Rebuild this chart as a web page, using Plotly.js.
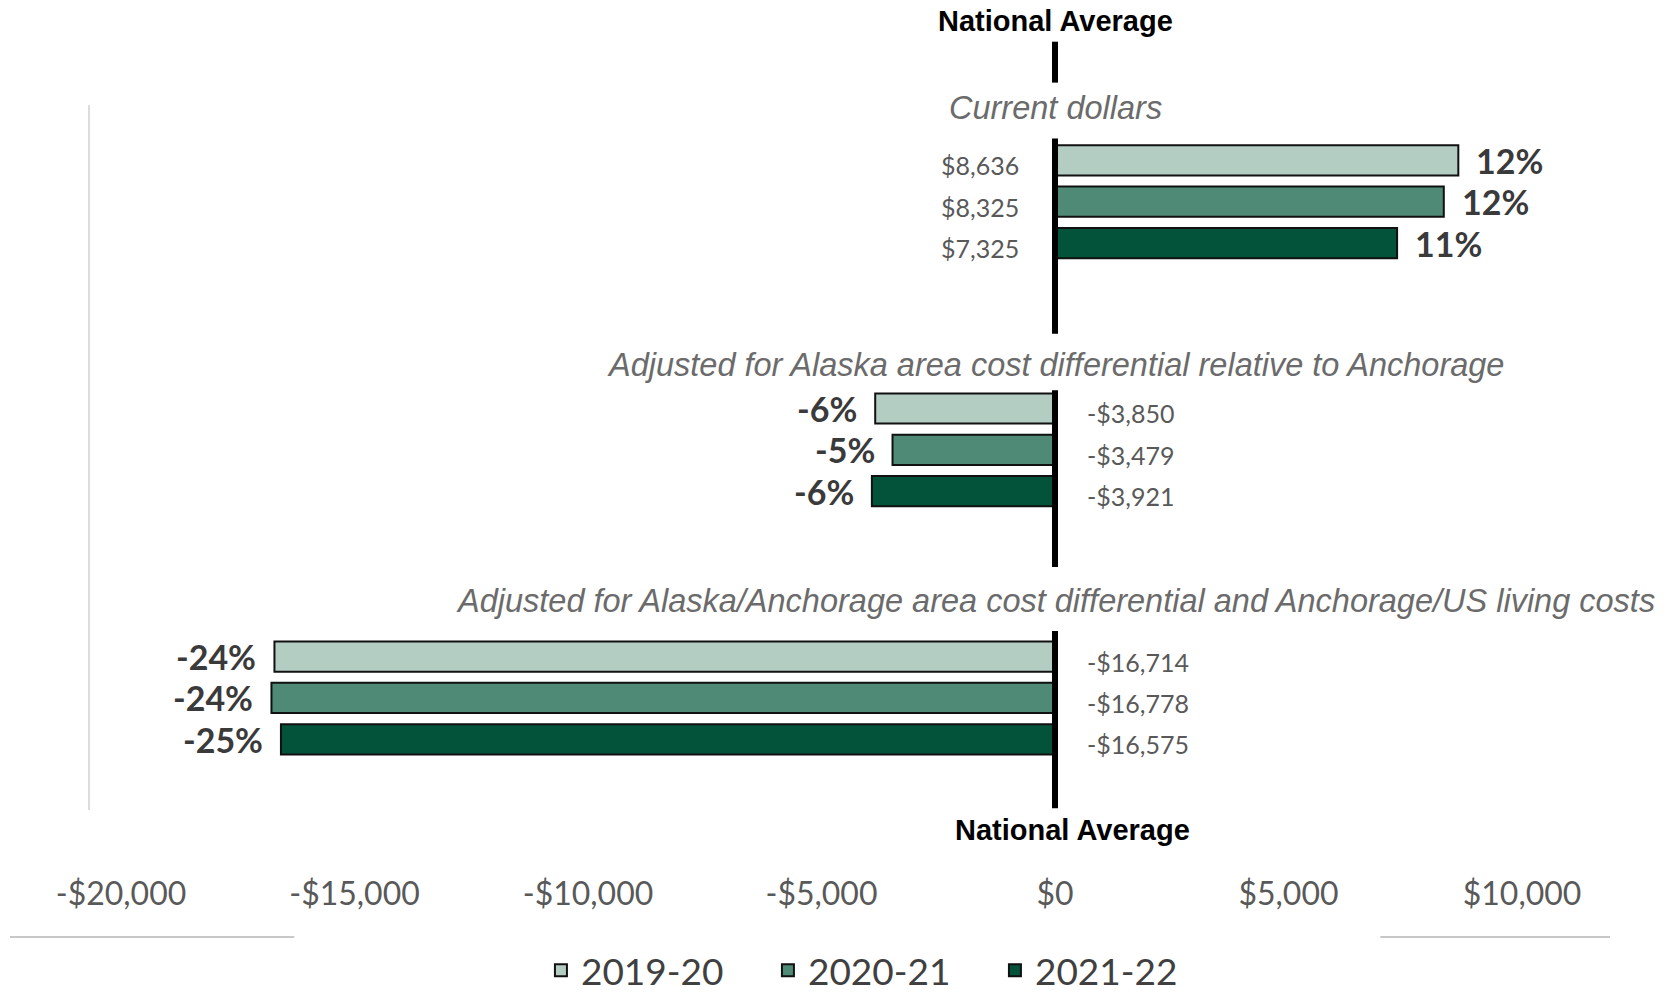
<!DOCTYPE html>
<html>
<head>
<meta charset="utf-8">
<script src="https://cdn.plot.ly/plotly-3.0.1.min.js"></script>
<style>html,body{margin:0;padding:0;background:#fff;}#chart{width:1677px;height:994px;}</style>
</head>
<body>
<div id="chart"></div>
<script>
// ---- data ----
const groups = [
  'Current dollars',
  'Adjusted for Alaska area cost differential relative to Anchorage',
  'Adjusted for Alaska/Anchorage area cost differential and Anchorage/US living costs'
];
const seriesNames = ['2019-20', '2020-21', '2021-22'];
const values2019 = [8636, -3850, -16714];
const values2020 = [8325, -3479, -16778];
const values2021 = [7325, -3921, -16575];
const pct2019 = [12, -6, -24];
const pct2020 = [12, -5, -24];
const pct2021 = [11, -6, -25];
const tickValues = [-20000, -15000, -10000, -5000, 0, 5000, 10000];
const tickLabels = ['-$20,000', '-$15,000', '-$10,000', '-$5,000', '$0', '$5,000', '$10,000'];
const refLabel = 'National Average';

// ---- styles ----
const colors = ['#b4cdc3', '#4e8a76', '#03533a'];
const titleOffsets = [-0.376, -0.342, -0.389];
const allValues = [values2019, values2020, values2021];
const allPct = [pct2019, pct2020, pct2021];
const catIdx = groups.map((g, i) => i);

function money(v) {
  return (v < 0 ? '-' : '') + '$' + Math.abs(v).toLocaleString('en-US');
}

const traces = allValues.map((vals, s) => ({
  type: 'bar',
  orientation: 'h',
  name: seriesNames[s],
  x: vals,
  y: catIdx,
  marker: { color: colors[s], line: { color: '#111', width: 2 } },
  hoverinfo: 'x+name'
}));

const bargap = 0.5, bargroupgap = 0.27;
const slot = (1 - bargap) / 3;

const annotations = [];
groups.forEach((g, i) => {
  annotations.push({
    text: g, x: 0, y: i + titleOffsets[i], xref: 'x', yref: 'y',
    xanchor: 'center', yanchor: 'middle', showarrow: false,
    font: { family: 'Liberation Sans, Arial, sans-serif', size: 32.5, color: '#6b6b6b', style: 'italic' }
  });
});
allValues.forEach((vals, s) => {
  vals.forEach((v, i) => {
    const yc = i - (1 - bargap) / 2 + slot * (s + 0.5);
    annotations.push({
      text: '<b>' + allPct[s][i] + '%</b>', x: v, y: yc, xref: 'x', yref: 'y',
      xanchor: v >= 0 ? 'left' : 'right', yanchor: 'middle',
      xshift: v >= 0 ? 16 : -16, showarrow: false,
      font: { family: 'Lato, Carlito, sans-serif', size: 34, color: '#3a3a3a' }
    });
    annotations.push({
      text: money(v), x: 0, y: yc, xref: 'x', yref: 'y',
      xanchor: v >= 0 ? 'right' : 'left', yanchor: 'middle',
      xshift: v >= 0 ? -34 : 30, yshift: -5, showarrow: false,
      font: { family: 'Lato, Carlito, sans-serif', size: 25, color: '#595959' }
    });
  });
});
annotations.push({
  text: '<b>' + refLabel + '</b>', x: 0, y: 1.0152, xref: 'x', yref: 'paper',
  xanchor: 'center', yanchor: 'middle', showarrow: false,
  font: { family: 'Liberation Sans, Arial, sans-serif', size: 29, color: '#000' }
});
annotations.push({
  text: '<b>' + refLabel + '</b>', x: 0, y: -0.0101, xref: 'x', yref: 'paper',
  xanchor: 'center', yanchor: 'middle', xshift: 17, showarrow: false,
  font: { family: 'Liberation Sans, Arial, sans-serif', size: 29, color: '#000' }
});

const segs = [[-0.645, -0.48], [-0.255, 0.532], [1 - 0.24, 1.472], [2 - 0.27, 2.445]];
const shapes = segs.map(s => ({
  type: 'line', xref: 'x', yref: 'y', x0: 0, x1: 0, y0: s[0], y1: s[1],
  line: { color: '#000', width: 6 }, layer: 'above'
}));
shapes.push({ type: 'line', xref: 'paper', yref: 'paper', x0: 0, x1: 0, y0: 0.0152, y1: 0.9087, line: { color: '#d0d0d0', width: 1.5 } });
shapes.push({ type: 'line', xref: 'paper', yref: 'paper', x0: -0.052, x1: 0.135, y0: -0.1458, y1: -0.1458, line: { color: '#c8c8c8', width: 2 } });
shapes.push({ type: 'line', xref: 'paper', yref: 'paper', x0: 0.849, x1: 1.0, y0: -0.1458, y1: -0.1458, line: { color: '#c8c8c8', width: 2 } });

const layout = {
  width: 1677, height: 994,
  margin: { l: 89, r: 67, t: 33, b: 172, autoexpand: false },
  paper_bgcolor: '#fff', plot_bgcolor: '#fff',
  barmode: 'group', bargap: bargap, bargroupgap: bargroupgap,
  showlegend: true,
  legend: {
    orientation: 'h', x: 0.5256, xref: 'container', xanchor: 'center',
    y: 0.0235, yref: 'container', yanchor: 'middle',
    font: { family: 'Lato, Carlito, sans-serif', size: 37, color: '#404040' },
    itemwidth: 30, entrywidth: 182, entrywidthmode: 'pixels', traceorder: 'normal'
  },
  xaxis: {
    range: [-20685, 11884], tickvals: tickValues, ticktext: tickLabels,
    showgrid: false, zeroline: false, showline: false,
    ticks: 'outside', ticklen: 44, tickcolor: 'rgba(0,0,0,0)',
    tickfont: { family: 'Lato, Carlito, sans-serif', size: 32, color: '#595959' },
    fixedrange: true
  },
  yaxis: {
    range: [2.5, -0.68], showticklabels: false, showgrid: false, zeroline: false,
    showline: false, ticks: '', fixedrange: true
  },
  annotations: annotations,
  shapes: shapes
};

Plotly.newPlot('chart', traces, layout, { displayModeBar: false, staticPlot: true });
</script>
</body>
</html>
